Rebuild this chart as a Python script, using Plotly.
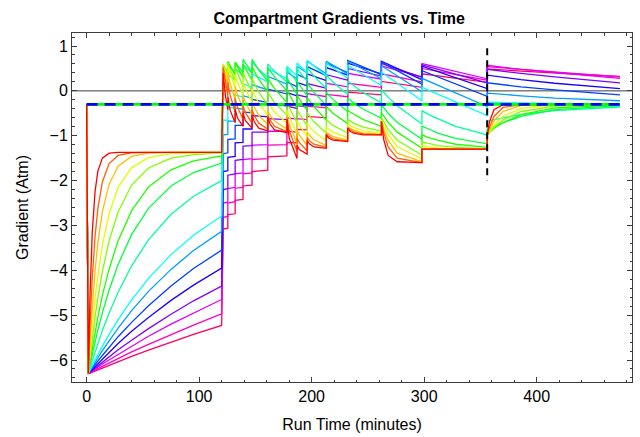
import plotly.graph_objects as go

# ---------------- data ----------------
TIME_BOTTOM = [0, 1.5, 3, 5, 7.5, 10, 14, 20, 28, 40, 55, 75, 95, 120]

BOTTOM = [
    [-0.3, -6.3, -4.56, -3.16, -2.24, -1.79, -1.50, -1.39, -1.37, -1.37, -1.37, -1.37, -1.37, -1.37],
    [-0.3, -6.3, -5.24, -4.17, -3.24, -2.62, -2.03, -1.62, -1.44, -1.38, -1.37, -1.37, -1.37, -1.37],
    [-0.3, -6.3, -5.58, -4.79, -4.00, -3.39, -2.69, -2.08, -1.68, -1.46, -1.39, -1.37, -1.37, -1.37],
    [-0.3, -6.3, -5.81, -5.24, -4.62, -4.11, -3.44, -2.74, -2.15, -1.71, -1.49, -1.40, -1.38, -1.37],
    [-0.3, -6.3, -5.95, -5.52, -5.03, -4.61, -4.03, -3.34, -2.70, -2.10, -1.72, -1.50, -1.42, -1.38],
    [-0.3, -6.3, -6.05, -5.74, -5.37, -5.04, -4.56, -3.97, -3.34, -2.67, -2.14, -1.76, -1.56, -1.45],
    [-0.3, -6.3, -6.11, -5.88, -5.59, -5.33, -4.95, -4.44, -3.87, -3.20, -2.62, -2.12, -1.82, -1.61],
    [-0.3, -6.3, -6.17, -6.01, -5.81, -5.62, -5.34, -4.95, -4.49, -3.90, -3.32, -2.75, -2.35, -2.00],
    [-0.3, -6.3, -6.22, -6.12, -6.00, -5.88, -5.69, -5.43, -5.10, -4.66, -4.18, -3.65, -3.22, -2.79],
    [-0.3, -6.3, -6.24, -6.15, -6.05, -5.95, -5.79, -5.57, -5.29, -4.90, -4.47, -3.98, -3.56, -3.13],
    [-0.3, -6.3, -6.25, -6.18, -6.10, -6.02, -5.90, -5.71, -5.48, -5.16, -4.79, -4.35, -3.96, -3.55],
    [-0.3, -6.3, -6.26, -6.21, -6.14, -6.08, -5.97, -5.83, -5.63, -5.36, -5.05, -4.67, -4.33, -3.95],
    [-0.3, -6.3, -6.27, -6.23, -6.18, -6.12, -6.04, -5.93, -5.77, -5.56, -5.30, -4.98, -4.68, -4.35],
    [-0.3, -6.3, -6.28, -6.24, -6.20, -6.16, -6.09, -6.00, -5.87, -5.69, -5.47, -5.20, -4.95, -4.65],
    [-0.3, -6.3, -6.28, -6.26, -6.22, -6.19, -6.14, -6.06, -5.96, -5.82, -5.65, -5.43, -5.22, -4.97],
    [-0.3, -6.3, -6.29, -6.27, -6.24, -6.22, -6.17, -6.11, -6.04, -5.92, -5.78, -5.60, -5.43, -5.23],
]

TIME_DECO_FAST = [121.4, 123.4, 125.5,
                  125.5, 127.5, 132,
                  132, 134, 139,
                  139, 141, 147,
                  147, 149, 153, 161,
                  161, 163, 167, 178,
                  178, 180, 187,
                  187, 189, 196,
                  196, 198, 202, 213,
                  213, 215, 219, 232,
                  232, 234, 238, 246, 262,
                  262, 264, 268, 276, 298,
                  298, 300, 304, 312, 328, 356,
                  356, 358, 362, 370, 386, 416, 474]

DECO_FAST = [
    [0.40, -0.12, -0.42, -0.12, -0.43, -0.71, -0.41, -0.60, -0.79, -0.49, -0.66, -0.83,
     -0.53, -0.69, -0.83, -0.89, -0.59, -0.74, -0.87, -0.93, -0.63, -1.05, -1.51,
     -1.21, -1.31, -1.41, -1.11, -1.18, -1.25, -1.28, -0.98, -1.05, -1.10, -1.13,
     -0.83, -0.90, -0.95, -0.98, -0.98, -0.68, -1.08, -1.44, -1.58, -1.60,
     -1.30, -1.30, -1.30, -1.30, -1.30, -1.30, -1.00, -0.69, -0.42, -0.31, -0.30, -0.30, -0.30],
    [0.52, 0.16, -0.11, 0.19, -0.09, -0.47, -0.17, -0.36, -0.63, -0.33, -0.48, -0.72,
     -0.42, -0.55, -0.72, -0.85, -0.55, -0.65, -0.79, -0.91, -0.61, -0.88, -1.35,
     -1.05, -1.15, -1.34, -1.04, -1.11, -1.19, -1.26, -0.96, -1.01, -1.07, -1.12,
     -0.82, -0.86, -0.92, -0.96, -0.98, -0.68, -0.93, -1.25, -1.50, -1.60,
     -1.30, -1.30, -1.30, -1.30, -1.30, -1.30, -1.00, -0.81, -0.57, -0.37, -0.31, -0.30, -0.30],
    [0.57, 0.31, 0.10, 0.40, 0.17, -0.20, 0.10, -0.08, -0.40, -0.10, -0.25, -0.54,
     -0.24, -0.36, -0.55, -0.75, -0.45, -0.54, -0.67, -0.85, -0.55, -0.74, -1.18,
     -0.88, -0.98, -1.22, -0.92, -0.99, -1.09, -1.22, -0.92, -0.96, -1.02, -1.10,
     -0.80, -0.83, -0.88, -0.94, -0.97, -0.67, -0.85, -1.10, -1.39, -1.58,
     -1.28, -1.28, -1.29, -1.30, -1.30, -1.30, -1.00, -0.87, -0.67, -0.46, -0.33, -0.30, -0.30],
    [0.60, 0.42, 0.26, 0.56, 0.38, 0.06, 0.36, 0.20, -0.10, 0.20, 0.06, -0.26,
     0.04, -0.08, -0.28, -0.54, -0.24, -0.33, -0.47, -0.72, -0.42, -0.57, -0.96,
     -0.66, -0.76, -1.02, -0.72, -0.79, -0.91, -1.11, -0.81, -0.85, -0.92, -1.04,
     -0.74, -0.77, -0.82, -0.89, -0.95, -0.65, -0.77, -0.97, -1.24, -1.52,
     -1.22, -1.23, -1.25, -1.27, -1.29, -1.30, -1.00, -0.91, -0.76, -0.57, -0.39, -0.31, -0.30],
    [0.60, 0.47, 0.35, 0.62, 0.48, 0.22, 0.52, 0.39, 0.11, 0.41, 0.29, -0.02,
     0.28, 0.17, -0.03, -0.32, -0.02, -0.11, -0.26, -0.54, -0.24, -0.37, -0.71,
     -0.41, -0.51, -0.78, -0.48, -0.55, -0.69, -0.94, -0.64, -0.69, -0.77, -0.94,
     -0.64, -0.67, -0.73, -0.81, -0.90, -0.60, -0.69, -0.86, -1.10, -1.43,
     -1.13, -1.15, -1.17, -1.22, -1.26, -1.29, -0.99, -0.93, -0.81, -0.65, -0.46, -0.34, -0.30],
    [0.58, 0.49, 0.40, 0.66, 0.56, 0.35, 0.63, 0.53, 0.30, 0.60, 0.50, 0.24,
     0.54, 0.44, 0.26, -0.02, 0.28, 0.20, 0.05, -0.26, 0.04, -0.07, -0.39,
     -0.09, -0.18, -0.44, -0.14, -0.22, -0.35, -0.65, -0.35, -0.40, -0.50, -0.73,
     -0.43, -0.47, -0.53, -0.64, -0.79, -0.49, -0.56, -0.70, -0.92, -1.28,
     -0.98, -1.00, -1.04, -1.10, -1.19, -1.26, -0.96, -0.92, -0.84, -0.71, -0.53, -0.38, -0.31],
    [0.47, 0.41, 0.35, 0.62, 0.55, 0.38, 0.64, 0.57, 0.40, 0.70, 0.62, 0.40,
     0.70, 0.62, 0.46, 0.22, 0.52, 0.45, 0.31, 0.00, 0.30, 0.20, -0.08,
     0.22, 0.14, -0.12, 0.18, 0.11, -0.03, -0.33, -0.03, -0.09, -0.19, -0.46,
     -0.16, -0.20, -0.28, -0.41, -0.61, -0.31, -0.38, -0.50, -0.70, -1.08,
     -0.78, -0.81, -0.85, -0.94, -1.06, -1.18, -0.88, -0.85, -0.80, -0.71, -0.57, -0.42, -0.33],
    [0.12, 0.09, 0.06, 0.36, 0.32, 0.24, 0.50, 0.45, 0.34, 0.58, 0.53, 0.40,
     0.64, 0.58, 0.48, 0.30, 0.60, 0.54, 0.44, 0.20, 0.50, 0.43, 0.20,
     0.50, 0.43, 0.22, 0.52, 0.46, 0.33, 0.05, 0.35, 0.30, 0.20, -0.08,
     0.22, 0.18, 0.10, -0.04, -0.27, 0.03, -0.03, -0.14, -0.33, -0.74,
     -0.44, -0.47, -0.53, -0.62, -0.79, -0.98, -0.68, -0.67, -0.64, -0.60, -0.53, -0.44, -0.36],
]

TIME_DECO_SLOW = [121.4, 125.5, 125.5, 132, 132, 139, 139, 147, 147, 161, 161, 178,
                  178, 187, 187, 196, 196, 213, 213, 232, 232, 262, 262, 298,
                  298, 356, 356, 386, 416, 474]

DECO_SLOW = [
    [-0.65, -0.66, -0.36, -0.39, -0.09, -0.14, 0.16, 0.08, 0.38, 0.20, 0.50, 0.27,
     0.55, 0.33, 0.62, 0.40, 0.68, 0.33, 0.62, 0.28, 0.57, 0.12, 0.42, -0.22,
     0.08, -0.55, -0.25, -0.27, -0.28, -0.30],
    [-0.98, -0.97, -0.67, -0.68, -0.38, -0.41, -0.11, -0.16, 0.14, 0.02, 0.32, 0.15,
     0.42, 0.27, 0.55, 0.40, 0.66, 0.38, 0.66, 0.38, 0.66, 0.27, 0.56, -0.02,
     0.28, -0.35, -0.05, -0.11, -0.16, -0.22],
    [-1.40, -1.38, -1.08, -1.07, -0.77, -0.77, -0.47, -0.49, -0.19, -0.26, 0.04, -0.07,
     0.20, 0.09, 0.37, 0.26, 0.54, 0.34, 0.62, 0.41, 0.68, 0.36, 0.64, 0.15,
     0.45, -0.12, 0.18, 0.09, 0.02, -0.09],
    [-1.80, -1.78, -1.48, -1.46, -1.16, -1.15, -0.85, -0.85, -0.55, -0.58, -0.28, -0.34,
     -0.04, -0.11, 0.19, 0.11, 0.38, 0.23, 0.52, 0.35, 0.62, 0.38, 0.66, 0.25,
     0.55, 0.05, 0.35, 0.25, 0.17, 0.05],
    [-2.20, -2.18, -1.88, -1.85, -1.55, -1.53, -1.23, -1.22, -0.92, -0.92, -0.62, -0.64,
     -0.34, -0.39, -0.09, -0.14, 0.16, 0.06, 0.36, 0.24, 0.50, 0.33, 0.61, 0.30,
     0.58, 0.18, 0.48, 0.39, 0.31, 0.18],
    [-2.50, -2.48, -2.18, -2.15, -1.85, -1.83, -1.53, -1.51, -1.21, -1.20, -0.90, -0.90,
     -0.60, -0.63, -0.33, -0.36, -0.06, -0.13, 0.17, 0.09, 0.39, 0.26, 0.56, 0.31,
     0.61, 0.27, 0.57, 0.48, 0.41, 0.28],
    [-2.82, -2.80, -2.50, -2.47, -2.17, -2.15, -1.85, -1.83, -1.53, -1.51, -1.21, -1.20,
     -0.90, -0.92, -0.62, -0.64, -0.34, -0.38, -0.08, -0.13, 0.17, 0.08, 0.38, 0.20,
     0.50, 0.24, 0.54, 0.48, 0.42, 0.31],
    [-3.08, -3.06, -2.76, -2.74, -2.44, -2.42, -2.12, -2.10, -1.80, -1.77, -1.47, -1.45,
     -1.15, -1.16, -0.86, -0.87, -0.57, -0.60, -0.30, -0.33, -0.03, -0.09, 0.21, 0.08,
     0.38, 0.19, 0.49, 0.44, 0.40, 0.32],
]

REFERENCE_TIME = [0, 474]
REFERENCE_LEVEL = [-0.3, -0.3]
SURFACE_TIME = [356, 356]
SURFACE_MARK = [0.95, -2.0]

# ---------------- style ----------------
COLORS = ["rgb(255,0,0)", "rgb(255,96,0)", "rgb(255,191,0)", "rgb(223,255,0)",
          "rgb(128,255,0)", "rgb(32,255,0)", "rgb(0,255,64)", "rgb(0,255,159)",
          "rgb(0,255,255)", "rgb(0,159,255)", "rgb(0,64,255)", "rgb(32,0,255)",
          "rgb(128,0,255)", "rgb(223,0,255)", "rgb(255,0,191)", "rgb(255,0,96)"]

fig = go.Figure()

fig.add_shape(type="line", xref="paper", x0=0, x1=1, yref="y", y0=0, y1=0,
              line=dict(color="rgb(60,60,60)", width=1), layer="below")

# slowest compartments first so the fast (red) ones end up on top
for i in reversed(range(16)):
    if i < 8:
        xs = TIME_BOTTOM + TIME_DECO_FAST
        ys = BOTTOM[i] + DECO_FAST[i]
    else:
        xs = TIME_BOTTOM + TIME_DECO_SLOW
        ys = BOTTOM[i] + DECO_SLOW[i - 8]
    fig.add_trace(go.Scatter(x=xs, y=ys, mode="lines",
                             line=dict(color=COLORS[i], width=1.3),
                             showlegend=False, hoverinfo="skip"))

fig.add_trace(go.Scatter(x=REFERENCE_TIME, y=REFERENCE_LEVEL, mode="lines",
                         line=dict(color="rgb(0,255,0)", width=2.6),
                         showlegend=False, hoverinfo="skip"))
fig.add_trace(go.Scatter(x=REFERENCE_TIME, y=REFERENCE_LEVEL, mode="lines",
                         line=dict(color="rgb(0,0,255)", width=2.6, dash="11px,7px"),
                         showlegend=False, hoverinfo="skip"))
fig.add_trace(go.Scatter(x=SURFACE_TIME, y=SURFACE_MARK, mode="lines",
                         line=dict(color="black", width=2, dash="7px,5px"),
                         showlegend=False, hoverinfo="skip"))

FONT = "Liberation Sans, Arial, sans-serif"
axis_common = dict(showgrid=False, zeroline=False, showline=True, mirror="ticks",
                   linecolor="rgb(60,60,60)", linewidth=1, ticks="inside",
                   tickcolor="rgb(60,60,60)", ticklen=5,
                   tickfont=dict(family=FONT, size=16, color="black"))

fig.update_layout(
    width=640, height=437,
    margin=dict(l=72, r=8, t=33, b=55),
    paper_bgcolor="white", plot_bgcolor="white",
    title=dict(text="<b>Compartment Gradients vs. Time</b>", x=0.53, xanchor="center",
               y=0.958, yanchor="middle",
               font=dict(family=FONT, size=16, color="black")),
    xaxis=dict(range=[-13, 484.7], tick0=0, dtick=100,
               minor=dict(ticks="inside", dtick=20, ticklen=2.5, tickcolor="rgb(60,60,60)"),
               title=dict(text="Run Time (minutes)", standoff=14,
                          font=dict(family=FONT, size=16, color="black")),
               **axis_common),
    yaxis=dict(range=[-6.49, 1.29], tick0=0, dtick=1,
               minor=dict(ticks="inside", dtick=0.2, ticklen=2.5, tickcolor="rgb(60,60,60)"),
               title=dict(text="Gradient (Atm)", standoff=16,
                          font=dict(family=FONT, size=16, color="black")),
               **axis_common),
)

fig.write_html("out.html")
